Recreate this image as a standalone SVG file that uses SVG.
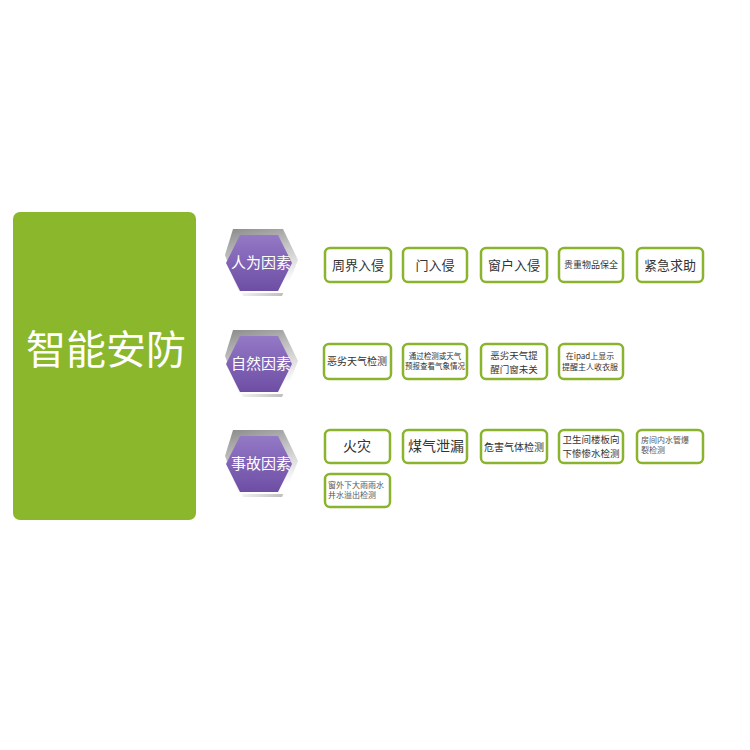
<svg xmlns="http://www.w3.org/2000/svg" width="750" height="750" viewBox="0 0 750 750">
<defs>
<linearGradient id="pg" x1="0" y1="0" x2="0" y2="1">
<stop offset="0" stop-color="#9479c6"/>
<stop offset="1" stop-color="#6d4ea4"/>
</linearGradient>
<linearGradient id="gg" x1="0" y1="0" x2="0.3" y2="1">
<stop offset="0" stop-color="#8a8a8a"/>
<stop offset="0.5" stop-color="#c8c8c8"/>
<stop offset="1" stop-color="#ffffff"/>
</linearGradient>
<linearGradient id="sg" x1="0" y1="0" x2="1" y2="1">
<stop offset="0.5" stop-color="#ffffff"/>
<stop offset="1" stop-color="#8a8a8a"/>
</linearGradient>
<polygon id="hexb" points="-26,-34 24,-34 39,-3 26,30 -20,30 -34,-8"/>
<polygon id="hexs" points="-16,-26 22,-26 36,3 23,33 -16,33 -30,3"/>
<polygon id="hex" points="-19,-28 19,-28 33,0 19,28 -19,28 -33,0"/>
</defs>
<style>
.box{fill:#fff;stroke:#8ab42e;stroke-width:2.5}
.t{font-family:"Noto Sans CJK SC","Noto Sans",sans-serif;fill:#333;text-anchor:middle}
.tl{font-family:"Noto Sans CJK SC","Noto Sans",sans-serif;fill:#555;text-anchor:start}
.ht{font-family:"Noto Sans CJK SC","Noto Sans",sans-serif;fill:#fff;font-size:15px;text-anchor:middle}
</style>
<rect width="750" height="750" fill="#fff"/>
<g id="main">
<rect x="13" y="212" width="183" height="308" rx="7" fill="#8ab72b"/>
<text x="106" y="364" font-family="Noto Sans CJK SC, sans-serif" font-size="40" fill="#fff" text-anchor="middle">智能安防</text>
</g>
<g id="hex1" transform="translate(259,263)">
<use href="#hexs" fill="url(#sg)" opacity="0.7"/>
<use href="#hexb" fill="url(#gg)"/>
<use href="#hex" fill="url(#pg)"/>
<text class="ht" x="2" y="5">人为因素</text>
</g>
<g id="hex2" transform="translate(259,364)">
<use href="#hexs" fill="url(#sg)" opacity="0.7"/>
<use href="#hexb" fill="url(#gg)"/>
<use href="#hex" fill="url(#pg)"/>
<text class="ht" x="2" y="5">自然因素</text>
</g>
<g id="hex3" transform="translate(259,464)">
<use href="#hexs" fill="url(#sg)" opacity="0.7"/>
<use href="#hexb" fill="url(#gg)"/>
<use href="#hex" fill="url(#pg)"/>
<text class="ht" x="2" y="5">事故因素</text>
</g>
<g id="r1b1"><rect class="box" x="325" y="248" width="66" height="34" rx="5"/><text class="t" x="358" y="270" font-size="13">周界入侵</text></g>
<g id="r1b2"><rect class="box" x="403" y="248" width="64" height="34" rx="5"/><text class="t" x="435" y="270" font-size="13">门入侵</text></g>
<g id="r1b3"><rect class="box" x="481" y="248" width="66" height="34" rx="5"/><text class="t" x="514" y="270" font-size="13">窗户入侵</text></g>
<g id="r1b4"><rect class="box" x="559" y="248" width="64" height="34" rx="5"/><text class="t" x="591" y="268" font-size="9">贵重物品保全</text></g>
<g id="r1b5"><rect class="box" x="637" y="248" width="66" height="34" rx="5"/><text class="t" x="670" y="270" font-size="13">紧急求助</text></g>
<g id="r2b1"><rect class="box" x="324" y="344" width="67" height="35" rx="5"/><text class="t" x="357" y="365" font-size="10">恶劣天气检测</text></g>
<g id="r2b2"><rect class="box" x="403" y="344" width="64" height="35" rx="5"/><text class="t" x="435" y="359" font-size="7.5">通过检测或天气</text><text class="t" x="435" y="369" font-size="7.5">预报查看气象情况</text></g>
<g id="r2b3"><rect class="box" x="481" y="344" width="66" height="35" rx="5"/><text class="t" x="514" y="358.5" font-size="9.5">恶劣天气提</text><text class="t" x="514" y="372.5" font-size="9.5">醒门窗未关</text></g>
<g id="r2b4"><rect class="box" x="559" y="344" width="64" height="35" rx="5"/><text class="t" x="590" y="359" font-size="8">在ipad上显示</text><text class="t" x="590" y="370" font-size="8">提醒主人收衣服</text></g>
<g id="r3b1"><rect class="box" x="325" y="430" width="65" height="33" rx="5"/><text class="t" x="357" y="451" font-size="14">火灾</text></g>
<g id="r3b2"><rect class="box" x="403" y="430" width="64" height="33" rx="5"/><text class="t" x="436" y="451" font-size="14">煤气泄漏</text></g>
<g id="r3b3"><rect class="box" x="481" y="430" width="66" height="33" rx="5"/><text class="t" x="514" y="451" font-size="10">危害气体检测</text></g>
<g id="r3b4"><rect class="box" x="559" y="430" width="64" height="33" rx="5"/><text class="t" x="591" y="442.5" font-size="9.5">卫生间楼板向</text><text class="t" x="591" y="456.5" font-size="9.5">下惨惨水检测</text></g>
<g id="r3b5"><rect class="box" x="637" y="430" width="66" height="33" rx="5"/><text class="tl" x="641" y="443" font-size="8">房间内水管爆</text><text class="tl" x="641" y="453" font-size="8">裂检测</text></g>
<g id="r3b6"><rect class="box" x="325" y="474" width="65" height="33" rx="5"/><text class="tl" x="328" y="488" font-size="8">窗外下大雨雨水</text><text class="tl" x="328" y="498" font-size="8">井水溢出检测</text></g>
<g id="connectors"/>
</svg>
